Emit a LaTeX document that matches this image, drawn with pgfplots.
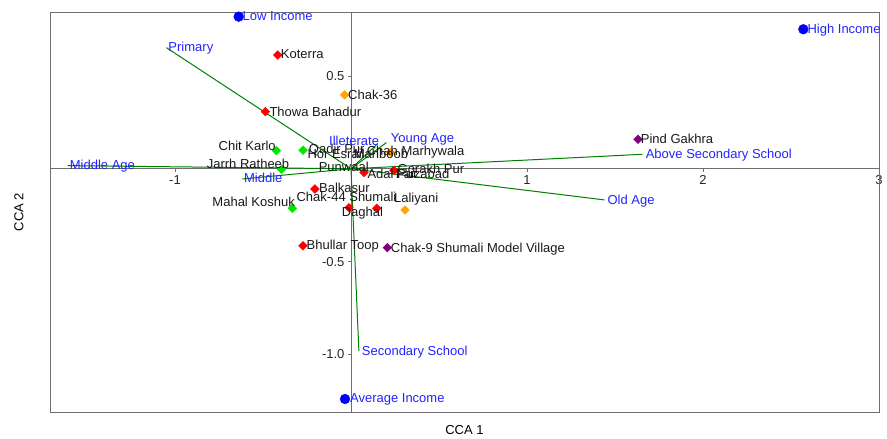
\documentclass[border=0pt]{standalone}
\usepackage{pgfplots}
\pgfplotsset{compat=1.18}
\usepackage{pgfplotstable}
\usepackage{fontspec}
\setmainfont{Liberation Sans}
\newcommand{\fsz}{\fontsize{13pt}{15pt}\selectfont}
\definecolor{lblue}{RGB}{35,35,255}
\definecolor{lgreen}{RGB}{0,128,0}
\definecolor{pred}{RGB}{255,0,0}
\definecolor{pgreen}{RGB}{0,230,0}
\definecolor{porange}{RGB}{255,165,0}
\definecolor{ppurple}{RGB}{128,0,128}
\definecolor{axgray}{RGB}{110,110,110}

\pgfplotstableread[col sep=comma]{
x,y,label
-0.617,0.798,Low Income
2.593,0.728,High Income
-0.006,-1.261,Average Income
-1.038,0.634,Primary
-1.598,-0.004,Middle Age
-0.608,-0.075,Middle
-0.125,0.128,Illeterate
0.226,0.142,Young Age
1.674,0.054,Above Secondary School
1.457,-0.192,Old Age
0.061,-1.009,Secondary School
}\bluelabels

\pgfplotstableread[col sep=comma]{
x,y,label
-0.399,0.592,Koterra
-0.017,0.374,Chak-36
-0.464,0.284,Thowa Bahadur
-0.753,0.100,Chit Karlo
-0.240,0.082,Qadir Pur
-0.248,0.056,Hor Esrail
0.015,0.056,Mahboob
0.089,0.069,Chah Marhywala
-0.820,0.000,Jarrh Ratheeb
-0.184,-0.013,Punwaal
0.093,-0.055,Adal Pur
0.264,-0.028,Gorakh Pur
0.254,-0.055,Faizabad
-0.182,-0.129,Balkasur
-0.310,-0.178,Chak-44 Shumali
0.244,-0.180,Laliyani
-0.053,-0.256,Daghal
-0.788,-0.205,Mahal Koshuk
-0.253,-0.435,Bhullar Toop
0.226,-0.450,Chak-9 Shumali Model Village
1.646,0.135,Pind Gakhra
}\sitelabels

\begin{document}
\begin{tikzpicture}[font=\fsz]
\begin{axis}[
  scale only axis, width=829pt, height=400pt,
  xmin=-1.710, xmax=3.0, ymin=-1.311, ymax=0.845,
  axis lines=middle,
  axis line style={draw=axgray, line width=0.8pt, -},
  clip=false,
  xtick={-1,1,2,3}, xticklabels={-1,1,2,3},
  ytick={-1,-0.5,0.5}, yticklabels={-1.0,-0.5,0.5},
  tick align=outside,
  major tick length=3pt,
  tick style={draw=axgray, line width=0.6pt},
  tick label style={font=\fsz, text=black!85},
  xlabel={CCA 1}, ylabel={CCA 2},
  every axis x label/.style={at={(rel axis cs:0.5,-0.045)}, anchor=center, font=\fsz},
  every axis y label/.style={at={(rel axis cs:-0.0374,0.5)}, anchor=center, rotate=90, font=\fsz},
]
\draw[axgray, line width=0.8pt] (rel axis cs:0,0) rectangle (rel axis cs:1,1);

% environmental vectors
\addplot[lgreen, line width=1pt] coordinates {(0,0) (-1.049,0.653)};
\addplot[lgreen, line width=1pt] coordinates {(0,0) (-1.610,0.017)};
\addplot[lgreen, line width=1pt] coordinates {(0,0) (-0.617,-0.055)};
\addplot[lgreen, line width=1pt] coordinates {(0,0) (0.152,0.136)};
\addplot[lgreen, line width=1pt] coordinates {(0,0) (0.201,0.141)};
\addplot[lgreen, line width=1pt] coordinates {(0,0) (1.656,0.078)};
\addplot[lgreen, line width=1pt] coordinates {(0,0) (1.441,-0.168)};
\addplot[lgreen, line width=1pt] coordinates {(0,0) (0.045,-0.982)};

% sites
\addplot[only marks, mark=square*, mark size=3.1pt, mark options={rotate=45, draw=pred, fill=pred}]
  coordinates {(-0.416,0.613) (-0.486,0.308) (-0.205,-0.109) (-0.273,-0.415) (-0.011,-0.210) (0.146,-0.213) (0.074,-0.020) (0.244,-0.009)};
\addplot[only marks, mark=square*, mark size=3.1pt, mark options={rotate=45, draw=pgreen, fill=pgreen}]
  coordinates {(-0.424,0.098) (-0.272,0.100) (-0.394,-0.003) (-0.333,-0.213)};
\addplot[only marks, mark=square*, mark size=3.1pt, mark options={rotate=45, draw=porange, fill=porange}]
  coordinates {(-0.036,0.398) (0.226,0.088) (0.307,-0.222)};
\addplot[only marks, mark=square*, mark size=3.1pt, mark options={rotate=45, draw=ppurple, fill=ppurple}]
  coordinates {(1.631,0.159) (0.207,-0.425)};

% income
\addplot[only marks, mark=*, mark size=4.9pt, mark options={draw=blue, fill=blue}]
  coordinates {(-0.638,0.820) (2.570,0.752) (-0.034,-1.241)};

% labels
\addplot[color=lblue, only marks, mark=*, mark size=0pt, mark options={draw=none, fill=none},
  nodes near coords, point meta=explicit symbolic,
  nodes near coords style={anchor=base west, inner sep=0pt, text=lblue, font=\fsz}]
  table[x=x, y=y, meta=label] {\bluelabels};
\addplot[color=black, only marks, mark=*, mark size=0pt, mark options={draw=none, fill=none},
  nodes near coords, point meta=explicit symbolic,
  nodes near coords style={anchor=base west, inner sep=0pt, text=black!90, font=\fsz}]
  table[x=x, y=y, meta=label] {\sitelabels};
\end{axis}
\pgfresetboundingbox
\path[use as bounding box] (-50pt,-27pt) rectangle (837pt,412pt);
\end{tikzpicture}
\end{document}
